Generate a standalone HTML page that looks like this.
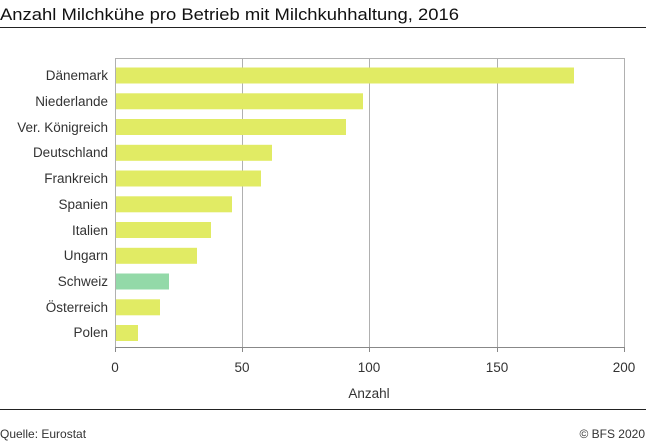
<!DOCTYPE html>
<html><head><meta charset="utf-8"><style>
html,body{margin:0;padding:0;background:#fff;}
svg{display:block;font-family:"Liberation Sans",sans-serif;}
</style></head><body>
<svg width="646" height="445" viewBox="0 0 646 445" xmlns="http://www.w3.org/2000/svg">
<text x="0" y="20" font-size="17" fill="#111" textLength="459" lengthAdjust="spacingAndGlyphs">Anzahl Milchkühe pro Betrieb mit Milchkuhhaltung, 2016</text>
<line x1="0" y1="27.5" x2="646" y2="27.5" stroke="#222" stroke-width="1"/>
<g stroke="#b0b0b0" stroke-width="1">
<line x1="115.5" y1="58" x2="115.5" y2="347"/>
<line x1="242.5" y1="58" x2="242.5" y2="347"/>
<line x1="369.5" y1="58" x2="369.5" y2="347"/>
<line x1="497.5" y1="58" x2="497.5" y2="347"/>
<line x1="624.5" y1="58" x2="624.5" y2="347"/>
<line x1="115" y1="58.5" x2="625" y2="58.5"/>
</g>
<line x1="115" y1="347.5" x2="625" y2="347.5" stroke="#888" stroke-width="1"/>
<g stroke="#888"><line x1="115.5" y1="347" x2="115.5" y2="352"/><line x1="242.5" y1="347" x2="242.5" y2="352"/><line x1="369.5" y1="347" x2="369.5" y2="352"/><line x1="497.5" y1="347" x2="497.5" y2="352"/><line x1="624.5" y1="347" x2="624.5" y2="352"/></g>
<g fill="#e1eb64">
<rect x="116" y="67.5" width="458" height="16"/>
<rect x="116" y="93.3" width="247" height="16"/>
<rect x="116" y="119" width="230" height="16"/>
<rect x="116" y="144.8" width="156" height="16"/>
<rect x="116" y="170.5" width="145" height="16"/>
<rect x="116" y="196.3" width="116" height="16"/>
<rect x="116" y="222" width="95" height="16"/>
<rect x="116" y="247.8" width="81" height="16"/>
<rect x="116" y="299.3" width="44" height="16"/>
<rect x="116" y="325" width="22" height="16"/>
</g>
<rect x="116" y="273.5" width="53" height="16" fill="#93d9a8"/>
<g font-size="13.5" fill="#333" text-anchor="end">
<text x="108" y="80">Dänemark</text>
<text x="108" y="106">Niederlande</text>
<text x="108" y="132">Ver. Königreich</text>
<text x="108" y="157">Deutschland</text>
<text x="108" y="183">Frankreich</text>
<text x="108" y="209">Spanien</text>
<text x="108" y="235">Italien</text>
<text x="108" y="260">Ungarn</text>
<text x="108" y="286">Schweiz</text>
<text x="108" y="312">Österreich</text>
<text x="108" y="337">Polen</text>
</g>
<g font-size="13.5" fill="#333" text-anchor="middle">
<text x="115" y="372">0</text>
<text x="242" y="372">50</text>
<text x="369" y="372">100</text>
<text x="497" y="372">150</text>
<text x="624" y="372">200</text>
<text x="369" y="398">Anzahl</text>
</g>
<line x1="0" y1="409.5" x2="646" y2="409.5" stroke="#222" stroke-width="1"/>
<text x="0" y="438" font-size="12" fill="#333">Quelle: Eurostat</text>
<text x="645" y="438" font-size="12" fill="#333" text-anchor="end">© BFS 2020</text>
</svg>
</body></html>
